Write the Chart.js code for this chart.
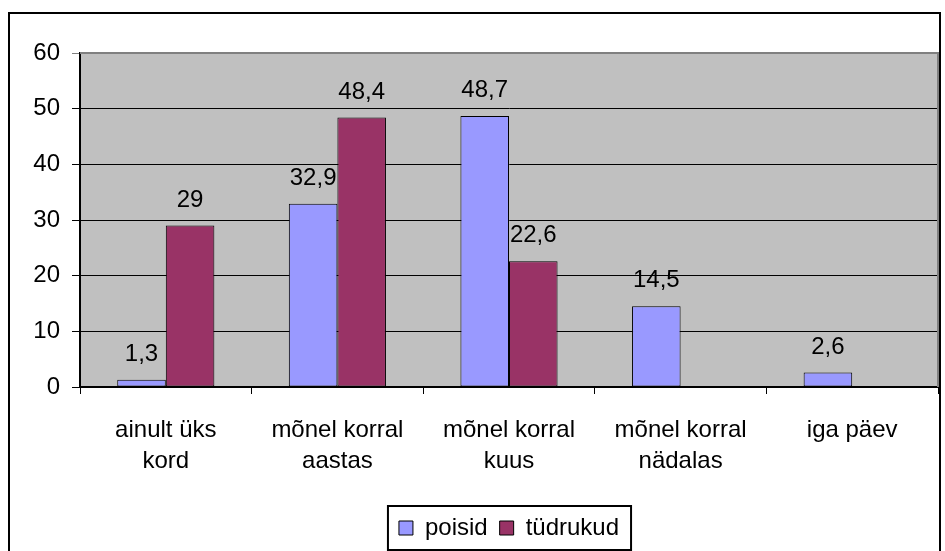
<!DOCTYPE html>
<html>
<head>
<meta charset="utf-8">
<script src="https://cdn.jsdelivr.net/npm/chart.js@4.4.1/dist/chart.umd.min.js"></script>
<style>
    body { margin: 0; background: #fff; }
    #wrap { position: relative; width: 945px; height: 551px; overflow: hidden; }
    #frame { position: absolute; left: 8px; top: 12px; width: 933px; height: 560px; border: 2px solid #000; box-sizing: border-box; }
    #canvasChart { position: absolute; left: 0; top: 0; }
</style>
</head>
<body>
<div id="wrap">
    <div id="frame"></div>
    <canvas id="canvasChart" width="945" height="551"></canvas>
</div>
<script>
const KATEGOORIAD = [
    ['ainult üks', 'kord'],
    ['mõnel korral', 'aastas'],
    ['mõnel korral', 'kuus'],
    ['mõnel korral', 'nädalas'],
    'iga päev'
];
const POISID = [1.3, 32.9, 48.7, 14.5, 2.6];
const TUDRUKUD = [29, 48.4, 22.6, null, null];
const Y_TICKS = [0, 10, 20, 30, 40, 50, 60];

const VARVID = {
    poisid: '#9999FF',
    tudrukud: '#993366',
    plotArea: '#C0C0C0',
    plotBorder: '#808080'
};

const FONT = '"Liberation Sans", Arial, sans-serif';
Chart.defaults.font.family = FONT;
Chart.defaults.font.size = 24;
Chart.defaults.color = '#000';

const taust = {
    id: 'taust',
    beforeDraw(chart) {
        const { ctx, chartArea: a } = chart;
        ctx.save();
        ctx.fillStyle = VARVID.plotArea;
        ctx.fillRect(a.left, a.top, a.right - a.left, a.bottom - a.top);
        ctx.restore();
    },
    beforeDatasetsDraw(chart) {
        const { ctx, chartArea: a } = chart;
        ctx.save();
        ctx.strokeStyle = VARVID.plotBorder;
        ctx.lineWidth = 2;
        ctx.beginPath();
        ctx.moveTo(a.left, a.top);
        ctx.lineTo(a.right, a.top);
        ctx.lineTo(a.right, a.bottom);
        ctx.stroke();
        ctx.restore();
    }
};

// väärtused tulpade kohale
const sildid = {
    id: 'sildid',
    afterDatasetsDraw(chart) {
        const ctx = chart.ctx;
        ctx.save();
        ctx.font = '24px ' + FONT;
        ctx.fillStyle = '#000';
        ctx.textAlign = 'center';
        ctx.textBaseline = 'alphabetic';
        chart.data.datasets.forEach((ds, i) => {
            chart.getDatasetMeta(i).data.forEach((bar, j) => {
                const v = ds.data[j];
                if (v === null || v === undefined)
                    return;
                ctx.fillText(String(v).replace('.', ','), bar.x, bar.y - 19);
            });
        });
        ctx.restore();
    }
};

// raam ümber legendi
const legendiRaam = {
    id: 'legendiRaam',
    afterDraw(chart) {
        const boxes = chart.legend.legendHitBoxes;
        if (!boxes || !boxes.length)
            return;
        let left = Math.min(...boxes.map(b => b.left));
        let right = Math.max(...boxes.map(b => b.left + b.width));
        let top = Math.min(...boxes.map(b => b.top));
        let bottom = Math.max(...boxes.map(b => b.top + b.height));
        const ctx = chart.ctx;
        ctx.save();
        ctx.strokeStyle = '#000';
        ctx.lineWidth = 2;
        ctx.strokeRect(left - 11, top - 10, right - left + 23, bottom - top + 20);
        ctx.restore();
    }
};

try {
    let ctx = document.querySelector('#canvasChart');
    let myChart = new Chart(ctx, {
        type: 'bar',
        data: {
            labels: KATEGOORIAD,
            datasets: [
                {
                    label: 'poisid',
                    data: POISID,
                    backgroundColor: VARVID.poisid,
                    borderColor: '#000',
                    borderWidth: 1,
                    borderSkipped: false,
                    categoryPercentage: 0.566,
                    barPercentage: 1.0
                },
                {
                    label: 'tüdrukud',
                    data: TUDRUKUD,
                    backgroundColor: VARVID.tudrukud,
                    borderColor: '#000',
                    borderWidth: 1,
                    borderSkipped: false,
                    categoryPercentage: 0.566,
                    barPercentage: 1.0
                }
            ]
        },
        options: {
            responsive: false,
            animation: false,
            layout: {
                padding: { left: 0, top: 53, right: 7, bottom: 1 }
            },
            plugins: {
                tooltip: { enabled: false },
                legend: {
                    position: 'bottom',
                    fullSize: false,
                    labels: {
                        boxWidth: 14,
                        boxHeight: 14,
                        padding: 12,
                        font: { size: 24 }
                    }
                }
            },
            scales: {
                x: {
                    offset: true,
                    grid: {
                        display: true,
                        offset: true,
                        drawOnChartArea: false,
                        color: '#000',
                        tickLength: 7
                    },
                    border: { color: '#000', width: 2 },
                    ticks: {
                        maxRotation: 0,
                        autoSkip: false,
                        padding: 21,
                        font: { size: 24, lineHeight: 1.3 }
                    },
                    afterFit(scale) {
                        scale.height = 117;
                    }
                },
                y: {
                    min: 0,
                    max: 60,
                    afterBuildTicks(scale) {
                        scale.ticks = Y_TICKS.map(v => ({ value: v }));
                    },
                    grid: {
                        color: c => (c.tick && c.tick.value === 60) ? VARVID.plotBorder : '#000',
                        lineWidth: 1,
                        tickLength: 8
                    },
                    border: { color: '#000', width: 2 },
                    ticks: {
                        padding: 12,
                        font: { size: 24 }
                    },
                    afterFit(scale) {
                        scale.width = 80;
                    }
                }
            }
        },
        plugins: [taust, sildid, legendiRaam]
    });
}
catch (exception) {
    alert('Viga graafiku koostamisel: ' + exception);
}
</script>
</body>
</html>
